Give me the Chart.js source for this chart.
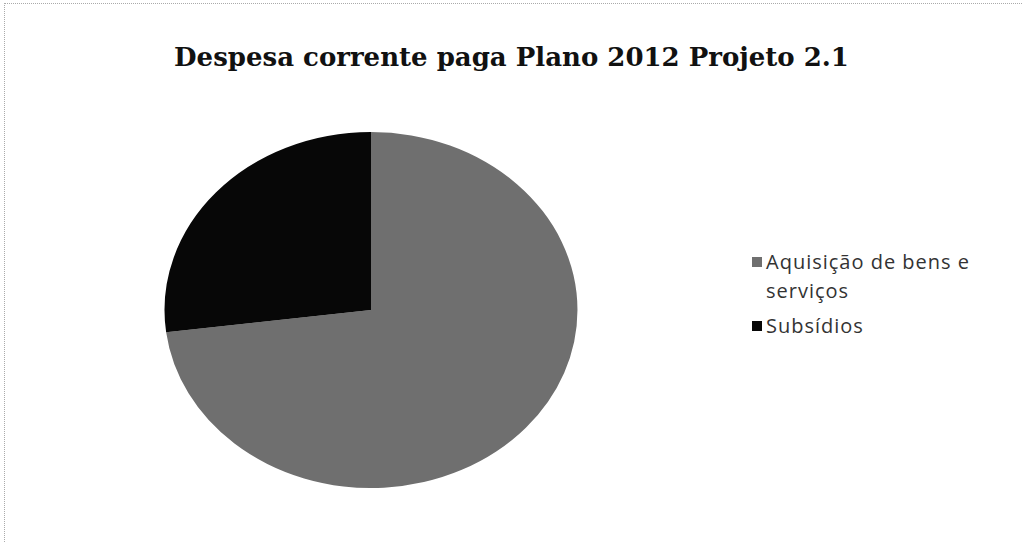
<!DOCTYPE html>
<html>
<head>
<meta charset="utf-8">
<script src="https://cdn.jsdelivr.net/npm/chart.js@4"></script>
<style>
  html, body { margin: 0; padding: 0; background: #fff; }
  #frame { position: absolute; left: 4px; top: 3px; width: 1019px; height: 540px;
           border-top: 1px dotted #aaa; border-left: 1px dotted #aaa; }
  #title { position: absolute; left: 0; width: 1023px; top: 42px; text-align: center;
           font-family: "DejaVu Serif", serif; font-weight: bold; font-size: 26px; color: #111; }
  #pie-wrap { position: absolute; left: 161px; top: 132px; width: 420px; height: 356px; }
  #legend { position: absolute; left: 752px; top: 247px; font-family: "Open Sans", sans-serif;
            font-size: 20px; letter-spacing: 1px; color: #333; }
  .item { position: relative; padding-left: 14px; line-height: 29px; width: 250px; margin-bottom: 6px; }
  .box { position: absolute; left: 0; top: 10px; width: 10px; height: 10px; }
</style>
</head>
<body>
<div id="frame"></div>
<div id="title"></div>
<div id="pie-wrap"><canvas id="pie" width="420" height="356"></canvas></div>
<div id="legend"></div>
<script>
const chartTitle = 'Despesa corrente paga Plano 2012 Projeto 2.1';
const categories = ['Aquisição de bens e serviços', 'Subsídios'];
const shares = [73, 27];
const colors = ['#6f6f6f', '#070707'];

// the scanned pie is a bit wider than tall
const stretchX = 1.16;

document.getElementById('title').textContent = chartTitle;

const legend = document.getElementById('legend');
categories.forEach((c, i) => {
    const item = document.createElement('div');
    item.className = 'item';
    const box = document.createElement('span');
    box.className = 'box';
    box.style.background = colors[i];
    item.appendChild(box);
    item.appendChild(document.createTextNode(c));
    legend.appendChild(item);
});

const stretch = {
    id: 'stretch',
    beforeDatasetsDraw(chart) {
        const arc = chart.getDatasetMeta(0).data[0];
        const ctx = chart.ctx;
        ctx.save();
        ctx.translate(arc.x, 0);
        ctx.scale(stretchX, 1);
        ctx.translate(-arc.x, 0);
    },
    afterDatasetsDraw(chart) {
        chart.ctx.restore();
    }
};

const ctx = document.getElementById('pie').getContext('2d');
new Chart(ctx, {
    type: 'pie',
    data: {
        labels: categories,
        datasets: [{
            data: shares,
            backgroundColor: colors,
            borderWidth: 0
        }]
    },
    options: {
        responsive: false,
        animation: false,
        layout: { padding: 0 },
        plugins: {
            legend: { display: false },
            tooltip: { enabled: false }
        }
    },
    plugins: [stretch]
});
</script>
</body>
</html>
